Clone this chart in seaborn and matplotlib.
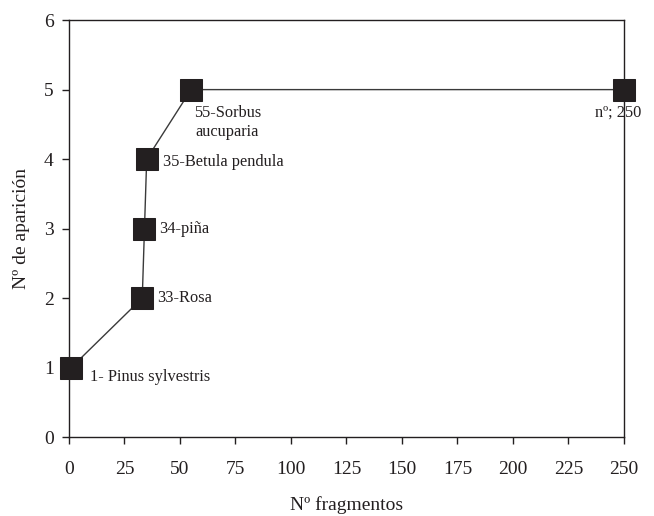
import matplotlib
matplotlib.use("Agg")
import matplotlib.pyplot as plt
import pandas as pd
import seaborn as sns

# data
fragmentos = [1, 33, 34, 35, 55, 250]
aparicion = [1, 2, 3, 4, 5, 5]
etiquetas = ["1- Pinus sylvestris", "33-Rosa", "34-piña", "35-Betula pendula",
             "55-Sorbus\naucuparia", "nº; 250"]
x_ticks = list(range(0, 251, 25))
y_ticks = list(range(0, 7))

sns.set_style("ticks")
plt.rcParams["font.family"] = ["Liberation Serif", "DejaVu Serif"]

df = pd.DataFrame({"fragmentos": fragmentos, "aparicion": aparicion})

fig = plt.figure(figsize=(6.54, 5.16), dpi=100)
ax = fig.add_axes([0.1055, 0.153, 0.8486, 0.808])

sns.lineplot(data=df, x="fragmentos", y="aparicion", ax=ax, color="#3a3a3a",
             linewidth=1.0, marker="s", markersize=15.5, markerfacecolor="#231f20",
             markeredgecolor="#231f20", sort=False)
for ln in ax.lines:
    ln.set_clip_on(False)

# label offsets in points: (dx, dy, ha, va)
offsets = [(13.5, -7, "left", "center"), (11, 0, "left", "center"),
           (10.5, -0.5, "left", "center"), (12, -2, "left", "center"),
           (26, -11, "center", "top"), (-4, -11, "center", "top")]
for xv, yv, lab, (dx, dy, ha, va) in zip(fragmentos, aparicion, etiquetas, offsets):
    ax.annotate(lab, (xv, yv), xytext=(dx, dy), textcoords="offset points",
                ha=ha, va=va, fontsize=11.8, color="#231f20", multialignment="center",
                linespacing=1.25)

ax.set_xlim(0, 250)
ax.set_ylim(0, 6)
ax.set_xticks(x_ticks)
ax.set_yticks(y_ticks)
ax.tick_params(axis="both", direction="out", length=5, width=1, labelsize=14,
               colors="#231f20", pad=12)
ax.tick_params(axis="y", pad=6)
for sp in ax.spines.values():
    sp.set_visible(True)
    sp.set_linewidth(1)
    sp.set_color("#231f20")

ax.set_xlabel("Nº fragmentos", fontsize=14, labelpad=13, color="#231f20")
ax.set_ylabel("Nº de aparición", fontsize=14, labelpad=10, color="#231f20")

fig.savefig("out.png", dpi=100)
